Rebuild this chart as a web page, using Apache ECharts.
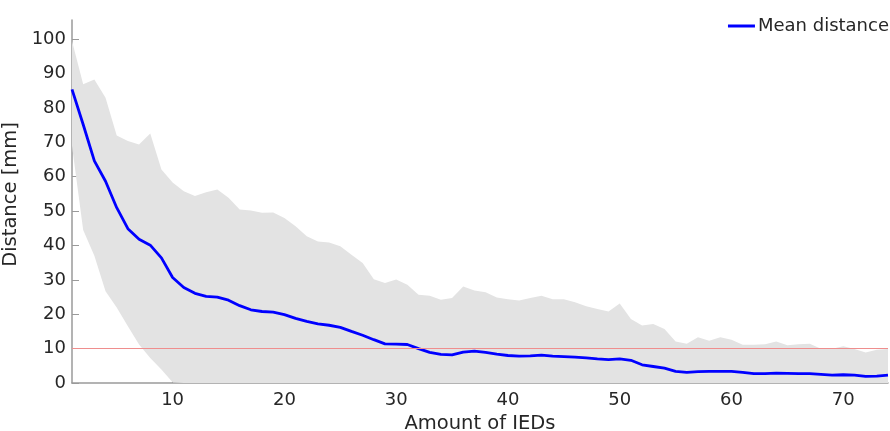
<!DOCTYPE html>
<html>
<head>
<meta charset="utf-8">
<script src="https://cdn.jsdelivr.net/npm/echarts@6/dist/echarts.min.js"></script>
<style>
  html, body { margin: 0; padding: 0; background: #fff; }
  #chart { width: 890px; height: 431px; }
</style>
</head>
<body>
<div id="chart"></div>
<script>
// Number of IEDs (1..74)
const iedCounts = Array.from({ length: 74 }, (_, i) => String(i + 1));

// Mean localisation distance [mm] per IED count
const meanDistance = [
  85.4, 75.2, 64.6, 58.7, 51.0, 44.9, 41.8, 40.1, 36.4, 30.7,
  27.8, 26.1, 25.2, 25.0, 24.1, 22.5, 21.3, 20.8, 20.6, 19.9,
  18.8, 17.9, 17.2, 16.8, 16.2, 15.0, 13.9, 12.6, 11.4, 11.3,
  11.2, 10.0, 8.9, 8.3, 8.2, 9.0, 9.3, 8.9, 8.4, 8.0,
  7.8, 7.9, 8.1, 7.8, 7.7, 7.5, 7.3, 7.0, 6.8, 7.0,
  6.6, 5.3, 4.8, 4.3, 3.4, 3.1, 3.3, 3.4, 3.4, 3.4,
  3.1, 2.7, 2.7, 2.9, 2.8, 2.7, 2.7, 2.5, 2.3, 2.4,
  2.3, 1.9, 2.0, 2.3
];

// Upper edge of the spread band [mm]
const bandUpper = [
  99.5, 86.9, 88.3, 83.0, 72.0, 70.4, 69.4, 72.6, 62.1, 58.3,
  55.8, 54.4, 55.5, 56.3, 53.9, 50.5, 50.2, 49.5, 49.6, 48.0,
  45.6, 42.7, 41.2, 40.9, 39.8, 37.3, 34.9, 30.2, 29.1, 30.1,
  28.6, 25.7, 25.4, 24.2, 24.7, 28.1, 26.9, 26.4, 24.9, 24.4,
  24.0, 24.7, 25.4, 24.4, 24.4, 23.5, 22.3, 21.5, 20.8, 23.1,
  18.6, 16.7, 17.2, 15.7, 12.1, 11.4, 13.3, 12.3, 13.3, 12.6,
  11.1, 11.1, 11.3, 12.1, 11.0, 11.3, 11.4, 10.0, 10.0, 10.7,
  9.9, 8.9, 9.7, 9.9
];

// Lower edge of the spread band [mm] (reaches the axis from 10 IEDs on)
const bandLower = [
  69.0, 44.5, 37.0, 26.7, 22.0, 16.5, 11.2, 7.3, 3.9, 0.2,
  0, 0, 0, 0, 0, 0, 0, 0, 0, 0,
  0, 0, 0, 0, 0, 0, 0, 0, 0, 0,
  0, 0, 0, 0, 0, 0, 0, 0, 0, 0,
  0, 0, 0, 0, 0, 0, 0, 0, 0, 0,
  0, 0, 0, 0, 0, 0, 0, 0, 0, 0,
  0, 0, 0, 0, 0, 0, 0, 0, 0, 0,
  0, 0, 0, 0
];

// Tick labels
const xTicks = ['10', '20', '30', '40', '50', '60', '70'];
const yTicks = [0, 10, 20, 30, 40, 50, 60, 70, 80, 90, 100];
const thresholdMm = 10;

const FONT = 'DejaVu Sans';
const TEXT = '#262626';
const AXIS = '#9a9a9a';

// band drawn as a stacked pair: invisible lower edge + filled span on top of it
const bandSpan = bandUpper.map((u, i) => +(u - bandLower[i]).toFixed(2));
const showXTick = (idx, val) => xTicks.indexOf(String(val)) !== -1;

const chart = echarts.init(document.getElementById('chart'), null, { renderer: 'canvas' });

chart.setOption({
  animation: false,
  backgroundColor: '#ffffff',
  grid: { left: 72, right: 2, top: 20, bottom: 48, containLabel: false, outerBoundsMode: 'none' },
  legend: {
    right: 1,
    top: 17,
    padding: 0,
    data: [{ name: 'Mean distance', icon: 'rect' }],
    itemWidth: 27,
    itemHeight: 3,
    textStyle: { fontFamily: FONT, fontSize: 18, color: TEXT, padding: [0, 0, 0, -2] }
  },
  xAxis: {
    type: 'category',
    data: iedCounts,
    boundaryGap: false,
    name: 'Amount of IEDs',
    nameLocation: 'middle',
    nameGap: 31,
    nameTextStyle: { fontFamily: FONT, fontSize: 19.5, color: TEXT },
    axisLine: { show: true, lineStyle: { color: AXIS, width: 1.5 } },
    axisTick: { show: true, inside: true, length: 7, interval: showXTick, lineStyle: { color: AXIS } },
    axisLabel: { interval: showXTick, fontFamily: FONT, fontSize: 18, color: TEXT, margin: 8 },
    splitLine: { show: false }
  },
  yAxis: {
    type: 'value',
    min: 0,
    max: 105.6,
    name: 'Distance [mm]',
    nameLocation: 'middle',
    nameGap: 40,
    nameTextStyle: { fontFamily: FONT, fontSize: 19.5, color: TEXT, padding: [0, 0, 0, 14] },
    axisLine: { show: true, lineStyle: { color: AXIS, width: 1.5 } },
    axisTick: { show: true, inside: true, length: 7, customValues: yTicks, lineStyle: { color: AXIS } },
    axisLabel: { customValues: yTicks, fontFamily: FONT, fontSize: 18, color: TEXT, margin: 6 },
    splitLine: { show: false }
  },
  series: [
    {
      name: 'bandBase',
      type: 'line',
      stack: 'band',
      data: bandLower,
      symbol: 'none',
      lineStyle: { width: 0, opacity: 0 },
      silent: true,
      z: 1
    },
    {
      name: 'bandSpan',
      type: 'line',
      stack: 'band',
      data: bandSpan,
      symbol: 'none',
      lineStyle: { width: 0, opacity: 0 },
      areaStyle: { color: '#e3e3e3', opacity: 1 },
      silent: true,
      z: 1,
      markLine: {
        silent: true,
        symbol: 'none',
        label: { show: false },
        lineStyle: { color: '#ef8e8e', width: 1, type: 'solid' },
        data: [{ yAxis: thresholdMm }]
      }
    },
    {
      name: 'Mean distance',
      type: 'line',
      data: meanDistance,
      symbol: 'none',
      color: '#0000ff',
      lineStyle: { color: '#0000ff', width: 2.8 },
      z: 3
    }
  ]
});
</script>
</body>
</html>
